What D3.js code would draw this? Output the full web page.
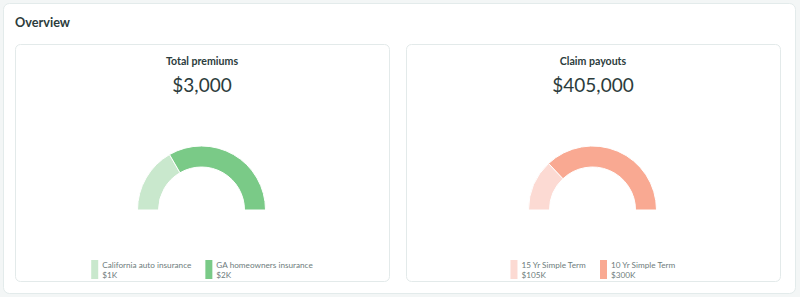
<!DOCTYPE html>
<html>
<head>
<meta charset="utf-8">
<script src="https://cdn.jsdelivr.net/npm/d3@7"></script>
<style>
  body { margin: 0; background: #f3f6f6; font-family: Lato, "Open Sans", sans-serif; }
</style>
</head>
<body>
<div id="chart"></div>
<script>
// card titles
const cardTitles = ["Total premiums", "Claim payouts"];

// series per card
const premiumLabels = ["California auto insurance", "GA homeowners insurance"];
const premiumValues = [1000, 2000];
const payoutLabels = ["15 Yr Simple Term", "10 Yr Simple Term"];
const payoutValues = [105000, 300000];

const greens = ["#c9e8cd", "#7aca87"];
const salmons = ["#fcdad3", "#f9a992"];

const W = 800, H = 297;

const svg = d3.select("#chart")
  .append("svg")
    .attr("width", W)
    .attr("height", H);

// outer panel
svg.append("rect")
  .attr("x", 3.5).attr("y", 3.5)
  .attr("width", 792).attr("height", 290)
  .attr("rx", 6)
  .style("fill", "#fff")
  .style("stroke", "#e3ebeb");

svg.append("text")
  .attr("x", 15).attr("y", 27)
  .text("Overview")
  .attr("font-size", "12.7px")
  .attr("font-weight", 700)
  .attr("fill", "#2c3c3c");

const cards = [
  {title: cardTitles[0], labels: premiumLabels, values: premiumValues, colors: greens, x: 15},
  {title: cardTitles[1], labels: payoutLabels, values: payoutValues, colors: salmons, x: 406}
];

const cardW = 374, cardY = 44, cardH = 237;
const fmtTotal = d3.format("$,");
const fmtShort = v => d3.format("$.3~s")(v).replace("k", "K");

const pie = d3.pie()
  .startAngle(-Math.PI / 2)
  .endAngle(Math.PI / 2)
  .sort(null);

const arc = d3.arc().innerRadius(43).outerRadius(64);

cards.forEach(function(c) {
  const g = svg.append("g").attr("transform", `translate(${c.x}, ${cardY})`);
  const cx = cardW / 2;

  g.append("rect")
    .attr("x", 0.5).attr("y", 0.5)
    .attr("width", cardW).attr("height", cardH)
    .attr("rx", 5)
    .style("fill", "#fff")
    .style("stroke", "#e3eaea");

  g.append("text")
    .attr("x", cx).attr("y", 21)
    .attr("text-anchor", "middle")
    .text(c.title)
    .attr("font-size", "10.6px")
    .attr("font-weight", 700)
    .attr("fill", "#2c3c3c");

  g.append("text")
    .attr("x", cx).attr("y", 48)
    .attr("text-anchor", "middle")
    .text(fmtTotal(d3.sum(c.values)))
    .attr("font-size", "19px")
    .attr("fill", "#2c3c3c");

  // half donut
  g.append("g")
    .attr("transform", `translate(${cx - 0.5}, ${166})`)
    .selectAll("path")
    .data(pie(c.values))
    .join("path")
      .attr("d", arc)
      .style("fill", (d, i) => c.colors[i])
      .style("stroke", "#fff")
      .style("stroke-width", 1);

  // legend
  const leg = g.append("g");
  const items = leg.selectAll("g")
    .data(c.labels)
    .join("g");
  items.append("rect")
    .attr("width", 7).attr("height", 19)
    .attr("y", 216)
    .style("fill", (d, i) => c.colors[i]);
  items.append("text")
    .attr("x", 11).attr("y", 223.5)
    .text(d => d)
    .attr("font-size", "8.2px")
    .attr("fill", "#6e7c7c");
  items.append("text")
    .attr("x", 11).attr("y", 234)
    .text((d, i) => fmtShort(c.values[i]))
    .attr("font-size", "8.2px")
    .attr("fill", "#6e7c7c");

  // lay out the legend items side by side, centered
  let xpos = 0;
  const gap = 14;
  items.each(function() {
    const w = this.getBBox().width;
    d3.select(this).attr("transform", `translate(${xpos}, 0)`);
    xpos += w + gap;
  });
  const total = xpos - gap;
  leg.attr("transform", `translate(${cx - total / 2}, 0)`);
});
</script>
</body>
</html>
